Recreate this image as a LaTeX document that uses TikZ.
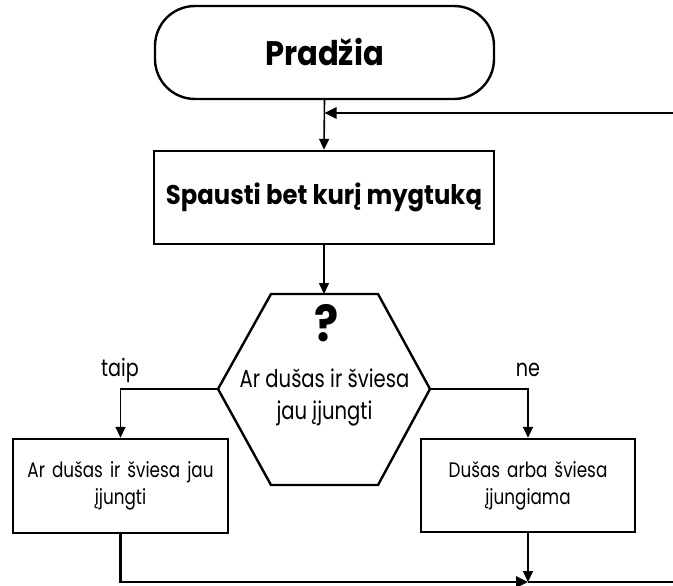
\documentclass[tikz,border=0pt]{standalone}
\usepackage{fontspec}
\setmainfont{Poppins}[FakeStretch=0.8]
\newfontfamily\boldfam{Poppins}[FakeStretch=0.9]
\usetikzlibrary{arrows.meta}
\begin{document}
\begin{tikzpicture}[x=1pt,y=-1pt,
  box/.style={draw,line width=2.4pt,inner sep=0pt},
  conn/.style={line width=1.6pt,-{Triangle[length=11pt,width=10pt]}},
  thick conn/.style={line width=2.6pt,-{Triangle[length=12pt,width=11pt]}},
  plain/.style={line width=2.6pt},
  lbl/.style={font=\fontsize{24}{27}\selectfont}]
\useasboundingbox (0,0) rectangle (673,586);
\node[box,rounded corners=40pt,minimum width=339pt,minimum height=93pt,font=\boldfam\bfseries\fontsize{34}{40}\selectfont] (start) at (324.5,52.5) {Pradžia};
\node[box,minimum width=340pt,minimum height=93pt,font=\boldfam\bfseries\fontsize{27}{32}\selectfont] (proc) at (324,197.5) {Spausti bet kurį mygtuką};
% hexagon
\coordinate (htl) at (271,294);
\coordinate (htr) at (378,294);
\coordinate (hr) at (430,389);
\coordinate (hbr) at (378,485);
\coordinate (hbl) at (271,485);
\coordinate (hl) at (218,389);
\coordinate (ht) at (324,294);
\draw[line width=2.4pt,line join=miter] (htl) -- (htr) -- (hr) -- (hbr) -- (hbl) -- (hl) -- cycle;
\node[font=\boldfam\bfseries\fontsize{50}{50}\selectfont] (qm) at (327,323) {?};
\node[align=center,font=\fontsize{24.5}{32}\selectfont] (htext) at (324.5,397) {Ar dušas ir šviesa\\jau įjungti};
\node[box,minimum width=215pt,minimum height=94pt,align=center,text width=210pt,font=\fontsize{21}{27}\selectfont] (lbox) at (120.5,486) {Ar dušas ir šviesa jau\\įjungti};
\node[box,minimum width=214pt,minimum height=93pt,align=center,text width=210pt,font=\fontsize{21}{27}\selectfont] (rbox) at (528,485.5) {Dušas arba šviesa\\įjungiama};
\node[lbl] (taip) at (120,370) {taip};
\node[lbl] (ne) at (528,370) {ne};
\coordinate (topin) at (673,113);
\coordinate (join) at (528,582);
\coordinate (botout) at (673,582);
% connectors
\draw[conn] (start.south) -- (proc.north);
\draw[thick conn] (topin) -- (start.south |- topin);
\draw[conn] (proc.south) -- (ht);
\draw[conn] (hl) -| (lbox.north);
\draw[conn] (hr) -| (rbox.north);
\draw[thick conn] (lbox.south) |- (join);
\draw[conn] (rbox.south) -- (join);
\draw[plain] (join) -- (botout);
\end{tikzpicture}
\end{document}
